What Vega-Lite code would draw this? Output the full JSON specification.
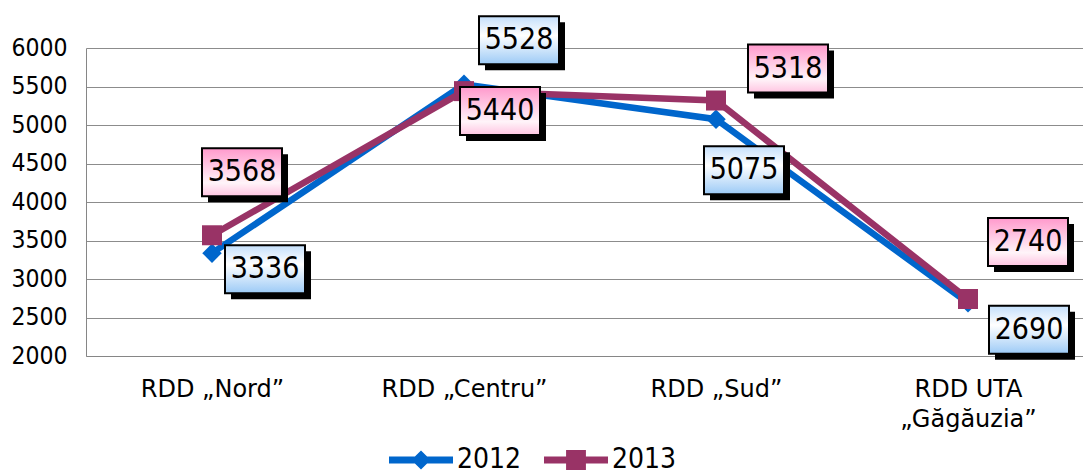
{
  "$schema": "https://vega.github.io/schema/vega-lite/v6.json",
  "width": 1008,
  "height": 308,
  "autosize": {"type": "none"},
  "padding": {"left": 86, "top": 48, "right": 0, "bottom": 120},
  "background": "white",
  "config": {"view": {"stroke": null}, "font": "DejaVu Sans Condensed"},
  "data": {
    "values": [
      {"region": "RDD „Nord”", "series": "2012", "value": 3336},
      {"region": "RDD „Centru”", "series": "2012", "value": 5528},
      {"region": "RDD „Sud”", "series": "2012", "value": 5075},
      {"region": "RDD UTA „Găgăuzia”", "series": "2012", "value": 2690},
      {"region": "RDD „Nord”", "series": "2013", "value": 3568},
      {"region": "RDD „Centru”", "series": "2013", "value": 5440},
      {"region": "RDD „Sud”", "series": "2013", "value": 5318},
      {"region": "RDD UTA „Găgăuzia”", "series": "2013", "value": 2740}
    ]
  },
  "encoding": {
    "x": {
      "field": "region",
      "type": "nominal",
      "sort": ["RDD „Nord”", "RDD „Centru”", "RDD „Sud”", "RDD UTA „Găgăuzia”"],
      "scale": {"type": "point", "padding": 0.5},
      "axis": {
        "title": null, "labelAngle": 0, "ticks": false, "grid": false,
        "domainColor": "#868686", "domainWidth": 1,
        "labelFontSize": 24, "labelFont": "DejaVu Sans", "labelColor": "black",
        "labelPadding": 21, "labelLineHeight": 30, "labelBaseline": "top", "labelLimit": 0,
        "labelExpr": "datum.label == 'RDD UTA „Găgăuzia”' ? ['RDD UTA', '„Găgăuzia”'] : datum.label"
      }
    },
    "y": {
      "field": "value",
      "type": "quantitative",
      "scale": {"domain": [2000, 6000], "zero": false, "nice": false},
      "axis": {
        "title": null, "values": [2000, 2500, 3000, 3500, 4000, 4500, 5000, 5500, 6000],
        "format": "d",
        "ticks": false, "grid": true, "gridColor": "#8c8c8c", "gridWidth": 1,
        "domainColor": "#868686", "labelFontSize": 24.5, "labelFont": "DejaVu Sans Condensed",
        "labelColor": "black", "labelPadding": 19
      }
    }
  },
  "layer": [
    {
      "transform": [{"filter": "datum.series == '2012'"}],
      "mark": {"type": "line", "strokeWidth": 6.5},
      "encoding": {
        "color": {
          "field": "series", "type": "nominal",
          "scale": {"domain": ["2012", "2013"], "range": ["#0066CC", "#993366"]},
          "legend": {
            "title": null, "orient": "none", "legendX": 303, "legendY": 380,
            "direction": "horizontal", "labelFontSize": 28, "labelFont": "DejaVu Sans Condensed",
            "labelColor": "black", "symbolSize": 4096, "columnPadding": 22, "labelOffset": 4,
            "encode": {
              "symbols": {
                "update": {
                  "shape": [
                    {"test": "datum.value === '2012'", "value": "M-1,-0.11L-0.19,-0.11L0,-0.3L0.19,-0.11L1,-0.11L1,0.11L0.19,0.11L0,0.3L-0.19,0.11L-1,0.11Z"},
                    {"value": "M-1,-0.11L-0.31,-0.11L-0.31,-0.31L0.31,-0.31L0.31,-0.11L1,-0.11L1,0.11L0.31,0.11L0.31,0.31L-0.31,0.31L-0.31,0.11L-1,0.11Z"}
                  ],
                  "fill": [
                    {"test": "datum.value === '2012'", "value": "#0066CC"},
                    {"value": "#993366"}
                  ],
                  "stroke": {"value": "transparent"},
                  "strokeWidth": {"value": 0},
                  "opacity": {"value": 1}
                }
              }
            }
          }
        }
      }
    },
    {
      "transform": [{"filter": "datum.series == '2012'"}],
      "mark": {"type": "point", "shape": "diamond", "size": 380, "filled": true, "opacity": 1},
      "encoding": {"color": {"field": "series", "type": "nominal"}}
    },
    {
      "transform": [{"filter": "datum.series == '2013'"}],
      "mark": {"type": "line", "strokeWidth": 6.5},
      "encoding": {"color": {"field": "series", "type": "nominal"}}
    },
    {
      "transform": [{"filter": "datum.series == '2013'"}],
      "mark": {"type": "point", "shape": "square", "size": 400, "filled": true, "opacity": 1},
      "encoding": {"color": {"field": "series", "type": "nominal"}}
    },
    {
      "transform": [{"filter": {"field": "value", "equal": 3336}}],
      "layer": [
        {"mark": {"type": "point", "shape": "M-1,-0.6L1,-0.6L1,0.6L-1,0.6Z", "size": 6400, "filled": true, "fill": "black", "strokeWidth": 0, "opacity": 1, "xOffset": 59, "yOffset": 22}},
        {"mark": {"type": "point", "shape": "M-1,-0.6L1,-0.6L1,0.6L-1,0.6Z", "size": 6400, "filled": true, "fill": {"gradient": "linear", "x1": 0, "y1": 0, "x2": 0, "y2": 1, "stops": [{"offset": 0, "color": "#c4dffb"}, {"offset": 0.4, "color": "#ffffff"}, {"offset": 1, "color": "#9ccaf6"}]}, "stroke": "black", "strokeWidth": 2, "opacity": 1, "xOffset": 53, "yOffset": 16}},
        {"mark": {"type": "text", "fontSize": 30, "font": "DejaVu Sans Condensed", "color": "black", "align": "center", "baseline": "middle", "dx": 53, "dy": 16}, "encoding": {"text": {"field": "value", "type": "quantitative", "format": "d"}}}
      ]
    },
    {
      "transform": [{"filter": {"field": "value", "equal": 5528}}],
      "layer": [
        {"mark": {"type": "point", "shape": "M-1,-0.6L1,-0.6L1,0.6L-1,0.6Z", "size": 6400, "filled": true, "fill": "black", "strokeWidth": 0, "opacity": 1, "xOffset": 61, "yOffset": -38}},
        {"mark": {"type": "point", "shape": "M-1,-0.6L1,-0.6L1,0.6L-1,0.6Z", "size": 6400, "filled": true, "fill": {"gradient": "linear", "x1": 0, "y1": 0, "x2": 0, "y2": 1, "stops": [{"offset": 0, "color": "#c4dffb"}, {"offset": 0.4, "color": "#ffffff"}, {"offset": 1, "color": "#9ccaf6"}]}, "stroke": "black", "strokeWidth": 2, "opacity": 1, "xOffset": 55, "yOffset": -44}},
        {"mark": {"type": "text", "fontSize": 30, "font": "DejaVu Sans Condensed", "color": "black", "align": "center", "baseline": "middle", "dx": 55, "dy": -44}, "encoding": {"text": {"field": "value", "type": "quantitative", "format": "d"}}}
      ]
    },
    {
      "transform": [{"filter": {"field": "value", "equal": 5075}}],
      "layer": [
        {"mark": {"type": "point", "shape": "M-1,-0.6L1,-0.6L1,0.6L-1,0.6Z", "size": 6400, "filled": true, "fill": "black", "strokeWidth": 0, "opacity": 1, "xOffset": 34, "yOffset": 57}},
        {"mark": {"type": "point", "shape": "M-1,-0.6L1,-0.6L1,0.6L-1,0.6Z", "size": 6400, "filled": true, "fill": {"gradient": "linear", "x1": 0, "y1": 0, "x2": 0, "y2": 1, "stops": [{"offset": 0, "color": "#c4dffb"}, {"offset": 0.4, "color": "#ffffff"}, {"offset": 1, "color": "#9ccaf6"}]}, "stroke": "black", "strokeWidth": 2, "opacity": 1, "xOffset": 28, "yOffset": 51}},
        {"mark": {"type": "text", "fontSize": 30, "font": "DejaVu Sans Condensed", "color": "black", "align": "center", "baseline": "middle", "dx": 28, "dy": 51}, "encoding": {"text": {"field": "value", "type": "quantitative", "format": "d"}}}
      ]
    },
    {
      "transform": [{"filter": {"field": "value", "equal": 2690}}],
      "layer": [
        {"mark": {"type": "point", "shape": "M-1,-0.6L1,-0.6L1,0.6L-1,0.6Z", "size": 6400, "filled": true, "fill": "black", "strokeWidth": 0, "opacity": 1, "xOffset": 67, "yOffset": 33}},
        {"mark": {"type": "point", "shape": "M-1,-0.6L1,-0.6L1,0.6L-1,0.6Z", "size": 6400, "filled": true, "fill": {"gradient": "linear", "x1": 0, "y1": 0, "x2": 0, "y2": 1, "stops": [{"offset": 0, "color": "#c4dffb"}, {"offset": 0.4, "color": "#ffffff"}, {"offset": 1, "color": "#9ccaf6"}]}, "stroke": "black", "strokeWidth": 2, "opacity": 1, "xOffset": 61, "yOffset": 27}},
        {"mark": {"type": "text", "fontSize": 30, "font": "DejaVu Sans Condensed", "color": "black", "align": "center", "baseline": "middle", "dx": 61, "dy": 27}, "encoding": {"text": {"field": "value", "type": "quantitative", "format": "d"}}}
      ]
    },
    {
      "transform": [{"filter": {"field": "value", "equal": 3568}}],
      "layer": [
        {"mark": {"type": "point", "shape": "M-1,-0.6L1,-0.6L1,0.6L-1,0.6Z", "size": 6400, "filled": true, "fill": "black", "strokeWidth": 0, "opacity": 1, "xOffset": 36, "yOffset": -57}},
        {"mark": {"type": "point", "shape": "M-1,-0.6L1,-0.6L1,0.6L-1,0.6Z", "size": 6400, "filled": true, "fill": {"gradient": "linear", "x1": 0, "y1": 0, "x2": 0, "y2": 1, "stops": [{"offset": 0, "color": "#ff99cc"}, {"offset": 0.72, "color": "#fff4f9"}, {"offset": 1, "color": "#ffc4e1"}]}, "stroke": "black", "strokeWidth": 2, "opacity": 1, "xOffset": 30, "yOffset": -63}},
        {"mark": {"type": "text", "fontSize": 30, "font": "DejaVu Sans Condensed", "color": "black", "align": "center", "baseline": "middle", "dx": 30, "dy": -63}, "encoding": {"text": {"field": "value", "type": "quantitative", "format": "d"}}}
      ]
    },
    {
      "transform": [{"filter": {"field": "value", "equal": 5440}}],
      "layer": [
        {"mark": {"type": "point", "shape": "M-1,-0.6L1,-0.6L1,0.6L-1,0.6Z", "size": 6400, "filled": true, "fill": "black", "strokeWidth": 0, "opacity": 1, "xOffset": 42, "yOffset": 26}},
        {"mark": {"type": "point", "shape": "M-1,-0.6L1,-0.6L1,0.6L-1,0.6Z", "size": 6400, "filled": true, "fill": {"gradient": "linear", "x1": 0, "y1": 0, "x2": 0, "y2": 1, "stops": [{"offset": 0, "color": "#ff99cc"}, {"offset": 0.72, "color": "#fff4f9"}, {"offset": 1, "color": "#ffc4e1"}]}, "stroke": "black", "strokeWidth": 2, "opacity": 1, "xOffset": 36, "yOffset": 20}},
        {"mark": {"type": "text", "fontSize": 30, "font": "DejaVu Sans Condensed", "color": "black", "align": "center", "baseline": "middle", "dx": 36, "dy": 20}, "encoding": {"text": {"field": "value", "type": "quantitative", "format": "d"}}}
      ]
    },
    {
      "transform": [{"filter": {"field": "value", "equal": 5318}}],
      "layer": [
        {"mark": {"type": "point", "shape": "M-1,-0.6L1,-0.6L1,0.6L-1,0.6Z", "size": 6400, "filled": true, "fill": "black", "strokeWidth": 0, "opacity": 1, "xOffset": 78, "yOffset": -26}},
        {"mark": {"type": "point", "shape": "M-1,-0.6L1,-0.6L1,0.6L-1,0.6Z", "size": 6400, "filled": true, "fill": {"gradient": "linear", "x1": 0, "y1": 0, "x2": 0, "y2": 1, "stops": [{"offset": 0, "color": "#ff99cc"}, {"offset": 0.72, "color": "#fff4f9"}, {"offset": 1, "color": "#ffc4e1"}]}, "stroke": "black", "strokeWidth": 2, "opacity": 1, "xOffset": 72, "yOffset": -32}},
        {"mark": {"type": "text", "fontSize": 30, "font": "DejaVu Sans Condensed", "color": "black", "align": "center", "baseline": "middle", "dx": 72, "dy": -32}, "encoding": {"text": {"field": "value", "type": "quantitative", "format": "d"}}}
      ]
    },
    {
      "transform": [{"filter": {"field": "value", "equal": 2740}}],
      "layer": [
        {"mark": {"type": "point", "shape": "M-1,-0.6L1,-0.6L1,0.6L-1,0.6Z", "size": 6400, "filled": true, "fill": "black", "strokeWidth": 0, "opacity": 1, "xOffset": 66, "yOffset": -51}},
        {"mark": {"type": "point", "shape": "M-1,-0.6L1,-0.6L1,0.6L-1,0.6Z", "size": 6400, "filled": true, "fill": {"gradient": "linear", "x1": 0, "y1": 0, "x2": 0, "y2": 1, "stops": [{"offset": 0, "color": "#ff99cc"}, {"offset": 0.72, "color": "#fff4f9"}, {"offset": 1, "color": "#ffc4e1"}]}, "stroke": "black", "strokeWidth": 2, "opacity": 1, "xOffset": 60, "yOffset": -57}},
        {"mark": {"type": "text", "fontSize": 30, "font": "DejaVu Sans Condensed", "color": "black", "align": "center", "baseline": "middle", "dx": 60, "dy": -57}, "encoding": {"text": {"field": "value", "type": "quantitative", "format": "d"}}}
      ]
    }
  ]
}
